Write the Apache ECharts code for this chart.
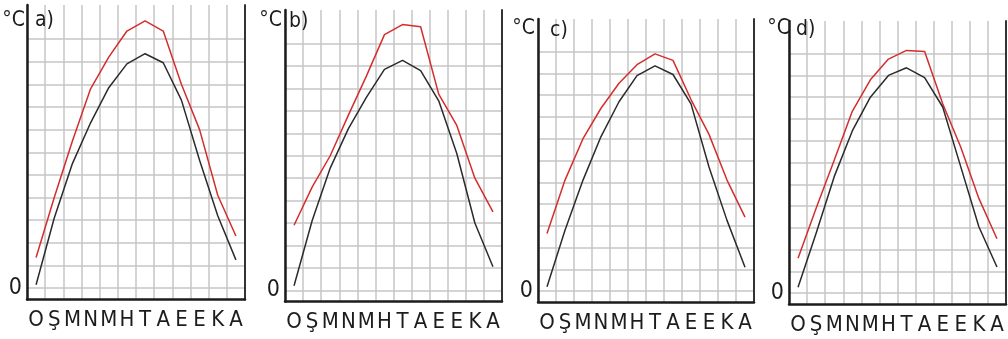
<!DOCTYPE html>
<html><head><meta charset="utf-8">
<script src="https://cdn.jsdelivr.net/npm/echarts@6/dist/echarts.min.js"></script>
<style>html,body{margin:0;padding:0;background:#fff}#c{width:1008px;height:339px}</style>
</head><body><div id="c"></div>
<script>
// ---- data ----
const months = ['O','Ş','M','N','M','H','T','A','E','E','K','A'];
const panelTags = ['a)','b)','c)','d)'];
const unitLabel = '°C';
const zeroLabel = '0';
const gridLevels = [0,1,2,3,4,5,6,7,8,9,10,11];

const blackA = [0.15, 3.1, 5.5, 7.3, 8.85, 9.9, 10.35, 9.95, 8.3, 5.65, 3.2, 1.25];
const redA   = [1.35, 4.0, 6.5, 8.8, 10.2, 11.35, 11.8, 11.35, 9.0, 7.0, 4.1, 2.3];

const blackB = [0.2, 3.1, 5.45, 7.2, 8.6, 9.85, 10.25, 9.8, 8.45, 6.1, 3.0, 1.05];
const redB   = [2.9, 4.6, 6.0, 7.8, 9.55, 11.4, 11.85, 11.75, 8.75, 7.35, 5.0, 3.5];

const blackC = [0.2, 2.8, 5.1, 7.1, 8.7, 9.9, 10.35, 9.95, 8.6, 5.7, 3.25, 1.1];
const redC   = [2.65, 5.1, 7.0, 8.4, 9.55, 10.4, 10.9, 10.6, 8.8, 7.2, 5.1, 3.4];

const blackD = [0.27, 2.75, 5.35, 7.45, 9.0, 10.0, 10.35, 9.9, 8.55, 5.8, 3.05, 1.2];
const redD   = [1.6, 3.9, 6.1, 8.35, 9.8, 10.75, 11.15, 11.1, 8.7, 6.7, 4.35, 2.5];

const blackSeries = [blackA, blackB, blackC, blackD];
const redSeries = [redA, redB, redC, redD];

// ---- font choice (narrowest installed) ----
function hasFont(name) {
  const ctx = document.createElement('canvas').getContext('2d');
  const t = 'OŞMNHTAEK0123abc';
  let diff = false;
  ['monospace', 'serif'].forEach(g => {
    ctx.font = '40px ' + g; const a = ctx.measureText(t).width;
    ctx.font = "40px '" + name + "', " + g; const b = ctx.measureText(t).width;
    if (a !== b) diff = true;
  });
  return diff;
}
const fontCandidates = [
  {name:'Liberation Sans Narrow', xs:24, zs:24, small:22},
  {name:'Arial Narrow', xs:24, zs:24, small:22},
  {name:'DejaVu Sans Condensed', xs:22, zs:23, small:21},
  {name:'Liberation Sans', xs:21, zs:22, small:20}
];
let FC = fontCandidates[fontCandidates.length - 1];
for (const c of fontCandidates) { if (hasFont(c.name)) { FC = c; break; } }
const F = "'" + FC.name + "', sans-serif";

// ---- layout / style ----
const layouts = [
  {left:27,  right:763, top:5,  bottom:39.5, unitX:25,  unitY:21, tagX:35,  tagY:21},
  {left:285, right:506, top:10, bottom:37.5, unitX:282, unitY:21, tagX:289, tagY:22},
  {left:538, right:254, top:19, bottom:37,   unitX:535, unitY:29, tagX:550, tagY:31},
  {left:789, right:2,   top:21, bottom:35,   unitX:790, unitY:29, tagX:796, tagY:30}
];
const Y_MIN = -0.5, Y_MAX = 12.5;
const gridGray = '#c6c6c6';
const axisDark = '#1c1c1c';

const grids = [], xAxes = [], yAxes = [], series = [], graphics = [];
layouts.forEach((L, i) => {
  grids.push({left:L.left, right:L.right, top:L.top, bottom:L.bottom, containLabel:false});
  xAxes.push({
    gridIndex:i, type:'category', data:months, boundaryGap:true,
    axisLine:{show:true, onZero:false, lineStyle:{color:axisDark, width:2.5}},
    axisTick:{show:false},
    axisLabel:{interval:0, hideOverlap:false, fontSize:FC.xs, color:axisDark, margin:10, fontFamily:F},
    splitLine:{show:true, interval:0, lineStyle:{color:gridGray, width:1.5}}
  });
  yAxes.push({
    gridIndex:i, type:'value', position:'left', min:Y_MIN, max:Y_MAX,
    axisLine:{show:true, lineStyle:{color:axisDark, width:2.5}},
    axisTick:{show:false, customValues:gridLevels},
    axisLabel:{customValues:[0], formatter:() => zeroLabel, fontSize:FC.zs, color:axisDark,
               margin:5, fontFamily:F, padding:[6,0,0,0]},
    splitLine:{show:true, lineStyle:{color:gridGray, width:1.5}}
  });
  yAxes.push({
    gridIndex:i, type:'value', position:'right', min:Y_MIN, max:Y_MAX,
    axisLine:{show:true, lineStyle:{color:'#333', width:2}},
    axisTick:{show:false}, axisLabel:{show:false}, splitLine:{show:false}
  });
  series.push({type:'line', xAxisIndex:i, yAxisIndex:2*i, data:redSeries[i], symbol:'none',
    lineStyle:{color:'#d42d2d', width:1.5}, silent:true, z:3});
  series.push({type:'line', xAxisIndex:i, yAxisIndex:2*i, data:blackSeries[i], symbol:'none',
    lineStyle:{color:'#2b2b2b', width:1.5}, silent:true, z:3});
  graphics.push({type:'text', x:L.unitX, y:L.unitY, z:10, style:{text:unitLabel, fontSize:FC.small, fontFamily:F, fill:axisDark, align:'right', verticalAlign:'middle'}});
  graphics.push({type:'text', x:L.tagX, y:L.tagY, z:10, style:{text:panelTags[i], fontSize:FC.small, fontFamily:F, fill:axisDark, align:'left', verticalAlign:'middle'}});
});

const chart = echarts.init(document.getElementById('c'), null, {renderer:'canvas'});
chart.setOption({
  animation:false,
  backgroundColor:'#ffffff',
  grid:grids, xAxis:xAxes, yAxis:yAxes, series:series, graphic:graphics
});
</script></body></html>
